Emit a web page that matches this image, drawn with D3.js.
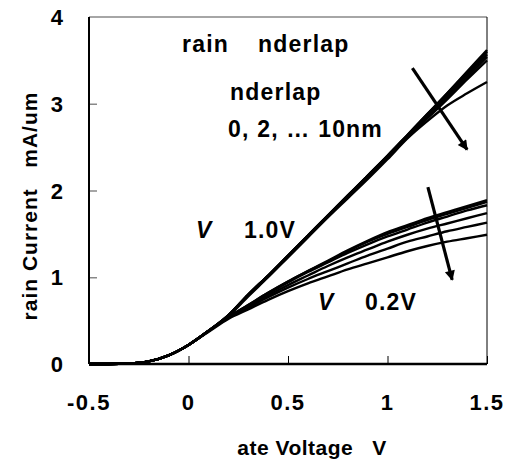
<!DOCTYPE html>
<html>
<head>
<meta charset="utf-8">
<script src="https://cdn.jsdelivr.net/npm/d3@7"></script>
<style>
  body { margin: 0; background: #fff; }
  text { font-family: "Liberation Sans", Arial, sans-serif; font-weight: bold; fill: #000; }
</style>
</head>
<body>
<svg id="chart" width="506" height="466"></svg>
<script>
// gate voltage samples (V)
var gateVoltage = [-0.5, -0.4, -0.3, -0.2, -0.1, 0, 0.1, 0.2, 0.3, 0.4, 0.5, 0.6, 0.7, 0.8, 0.9, 1.0, 1.1, 1.2, 1.3, 1.4, 1.5];
var underlaps = ["0nm", "2nm", "4nm", "6nm", "8nm", "10nm"];

// drain current (mA/um) at Vd = 1.0V, one row per underlap
var idHighVd = [
  [0, 0, 0.005, 0.03, 0.1, 0.22, 0.38, 0.56, 0.80, 1.02, 1.25, 1.48, 1.71, 1.94, 2.17, 2.40, 2.64, 2.88, 3.12, 3.37, 3.62],
  [0, 0, 0.005, 0.03, 0.1, 0.22, 0.38, 0.56, 0.80, 1.02, 1.25, 1.48, 1.71, 1.94, 2.17, 2.40, 2.64, 2.88, 3.12, 3.36, 3.60],
  [0, 0, 0.005, 0.03, 0.1, 0.22, 0.38, 0.56, 0.80, 1.02, 1.25, 1.48, 1.71, 1.94, 2.17, 2.40, 2.63, 2.87, 3.10, 3.34, 3.57],
  [0, 0, 0.005, 0.03, 0.1, 0.22, 0.38, 0.56, 0.79, 1.01, 1.24, 1.47, 1.70, 1.93, 2.16, 2.39, 2.62, 2.85, 3.08, 3.31, 3.54],
  [0, 0, 0.005, 0.03, 0.1, 0.22, 0.38, 0.56, 0.79, 1.01, 1.24, 1.47, 1.70, 1.93, 2.16, 2.38, 2.61, 2.83, 3.05, 3.28, 3.50],
  [0, 0, 0.005, 0.03, 0.1, 0.22, 0.38, 0.55, 0.78, 1.00, 1.23, 1.46, 1.69, 1.91, 2.13, 2.36, 2.60, 2.80, 2.98, 3.12, 3.25]
];

// drain current (mA/um) at Vd = 0.2V
var idLowVd = [
  [0, 0, 0.005, 0.03, 0.1, 0.22, 0.38, 0.54, 0.68, 0.82, 0.95, 1.07, 1.19, 1.31, 1.42, 1.52, 1.60, 1.68, 1.75, 1.82, 1.89],
  [0, 0, 0.005, 0.03, 0.1, 0.22, 0.38, 0.54, 0.68, 0.82, 0.95, 1.07, 1.18, 1.30, 1.41, 1.50, 1.58, 1.66, 1.73, 1.80, 1.87],
  [0, 0, 0.005, 0.03, 0.1, 0.22, 0.38, 0.54, 0.67, 0.81, 0.94, 1.06, 1.17, 1.28, 1.38, 1.47, 1.55, 1.63, 1.70, 1.77, 1.83],
  [0, 0, 0.005, 0.03, 0.1, 0.22, 0.38, 0.53, 0.66, 0.79, 0.91, 1.02, 1.13, 1.23, 1.32, 1.41, 1.49, 1.56, 1.62, 1.68, 1.74],
  [0, 0, 0.005, 0.03, 0.1, 0.22, 0.38, 0.53, 0.65, 0.77, 0.88, 0.98, 1.07, 1.16, 1.25, 1.33, 1.41, 1.47, 1.53, 1.58, 1.63],
  [0, 0, 0.005, 0.03, 0.1, 0.22, 0.37, 0.52, 0.63, 0.74, 0.84, 0.93, 1.01, 1.09, 1.16, 1.23, 1.30, 1.36, 1.41, 1.45, 1.49]
];

var xTicks = [-0.5, 0, 0.5, 1, 1.5];
var yTicks = [0, 1, 2, 3, 4];

// arrows showing increasing underlap: [x1, y1, x2, y2] in data units
var arrows = [
  [1.125, 3.41, 1.40, 2.47],
  [1.203, 2.04, 1.325, 0.97]
];

var svg = d3.select("#chart");
var margin = {left: 89, right: 487, top: 17, bottom: 364};

var x = d3.scaleLinear().domain([-0.5, 1.5]).range([margin.left, margin.right]);
var y = d3.scaleLinear().domain([0, 4]).range([margin.bottom, margin.top]);

svg.append("defs").append("marker")
  .attr("id", "head")
  .attr("viewBox", "0 0 10 10")
  .attr("refX", 9).attr("refY", 5)
  .attr("markerWidth", 4.8).attr("markerHeight", 3.2)
  .attr("orient", "auto")
  .append("path")
  .attr("d", "M0,0 L10,5 L0,10 Z")
  .attr("fill", "#000");

// frame
svg.append("line").attr("x1", margin.left).attr("x2", margin.right).attr("y1", margin.top).attr("y2", margin.top)
  .attr("stroke", "#888").attr("stroke-width", 1.5);
svg.append("line").attr("x1", margin.right).attr("x2", margin.right).attr("y1", margin.top).attr("y2", margin.bottom)
  .attr("stroke", "#000").attr("stroke-width", 1);

// ticks inside the plot
var xAxis = svg.append("g").attr("transform", "translate(0," + margin.bottom + ")")
  .call(d3.axisBottom(x).tickValues(xTicks).tickSize(-8).tickFormat(""));
xAxis.select(".domain").remove();
xAxis.selectAll("line").attr("stroke", "#000").attr("stroke-width", 1);

var yAxis = svg.append("g").attr("transform", "translate(" + margin.left + ",0)")
  .call(d3.axisLeft(y).tickValues([1, 2, 3]).tickSize(-8).tickFormat(""));
yAxis.select(".domain").remove();
yAxis.selectAll("line").attr("stroke", "#888").attr("stroke-width", 1.5);

// curves
var line = d3.line()
  .x(function (d, i) { return x(gateVoltage[i]); })
  .y(function (d) { return y(d); })
  .curve(d3.curveMonotoneX);

var curves = idHighVd.concat(idLowVd);
svg.append("g").selectAll("path")
  .data(curves)
  .enter()
  .append("path")
  .attr("d", line)
  .attr("fill", "none")
  .attr("stroke", "#000")
  .attr("stroke-width", 2.4);

// main axes lines
svg.append("line").attr("x1", margin.left).attr("x2", margin.left).attr("y1", margin.top).attr("y2", margin.bottom)
  .attr("stroke", "#000").attr("stroke-width", 2);
svg.append("line").attr("x1", margin.left).attr("x2", margin.right).attr("y1", margin.bottom).attr("y2", margin.bottom)
  .attr("stroke", "#000").attr("stroke-width", 2.5);

// tick labels
svg.append("g").selectAll("text")
  .data(xTicks)
  .enter()
  .append("text")
  .attr("x", function (d) { return x(d); })
  .attr("y", 410)
  .attr("text-anchor", "middle")
  .style("font-size", "22px")
  .style("letter-spacing", "1.5px")
  .text(function (d) { return d; });

svg.append("g").selectAll("text")
  .data(yTicks)
  .enter()
  .append("text")
  .attr("x", 63)
  .attr("y", function (d) { return y(d) + 8; })
  .attr("text-anchor", "end")
  .style("font-size", "22px")
  .text(function (d) { return d; });

// axis titles
svg.append("text")
  .attr("x", 312).attr("y", 455)
  .attr("text-anchor", "middle")
  .style("font-size", "21px")
  .style("letter-spacing", "0.5px")
  .attr("xml:space", "preserve")
  .text("ate Voltage   V");

svg.append("text")
  .attr("transform", "translate(37,206) rotate(-90)")
  .attr("text-anchor", "middle")
  .style("font-size", "21px")
  .style("letter-spacing", "1px")
  .attr("xml:space", "preserve")
  .text("rain Current   mA/um");

// annotations
var notes = [
  {t: "rain", x: 182, y: 52, it: false},
  {t: "nderlap", x: 258, y: 52, it: false},
  {t: "nderlap", x: 230, y: 100, it: false},
  {t: "0, 2, \u2026 10nm", x: 228, y: 137, it: false},
  {t: "V", x: 196, y: 238, it: true},
  {t: "1.0V", x: 244, y: 238, it: false},
  {t: "V", x: 318, y: 310, it: true},
  {t: "0.2V", x: 365, y: 310, it: false}
];
svg.append("g").selectAll("text")
  .data(notes)
  .enter()
  .append("text")
  .attr("x", function (d) { return d.x; })
  .attr("y", function (d) { return d.y; })
  .style("font-size", "23px")
  .style("letter-spacing", "1.2px")
  .style("font-style", function (d) { return d.it ? "italic" : "normal"; })
  .text(function (d) { return d.t; });

svg.append("g").selectAll("line")
  .data(arrows)
  .enter()
  .append("line")
  .attr("x1", function (d) { return x(d[0]); })
  .attr("y1", function (d) { return y(d[1]); })
  .attr("x2", function (d) { return x(d[2]); })
  .attr("y2", function (d) { return y(d[3]); })
  .attr("stroke", "#000")
  .attr("stroke-width", 3.2)
  .attr("marker-end", "url(#head)");
</script>
</body>
</html>
